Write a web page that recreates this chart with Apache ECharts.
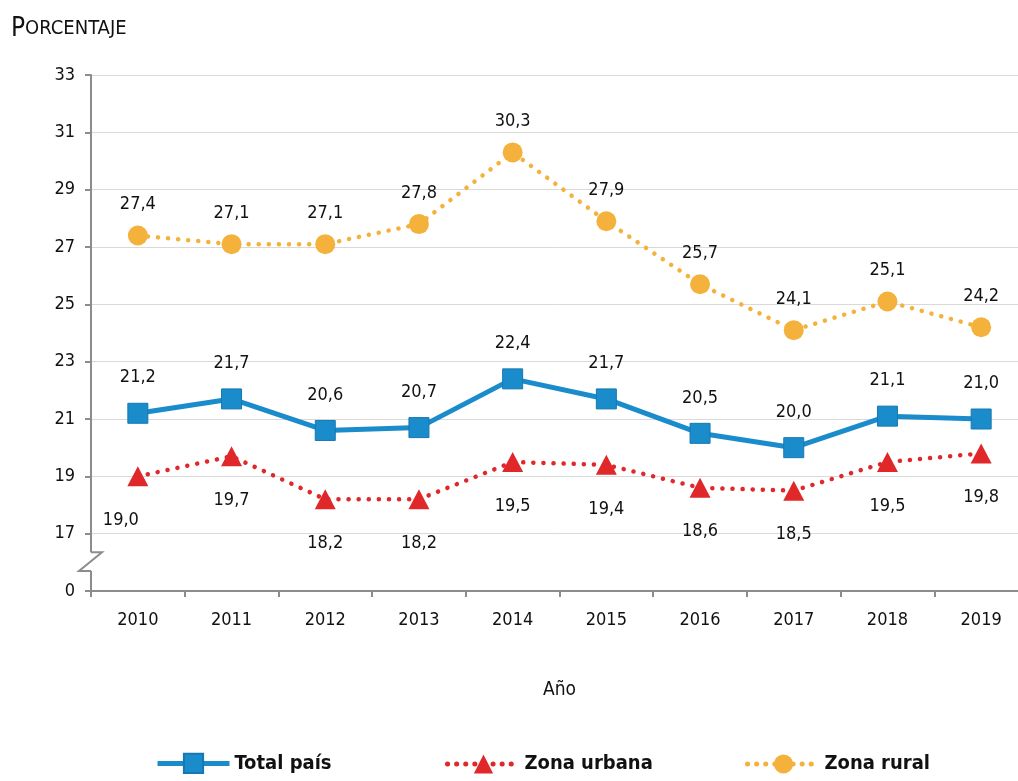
<!DOCTYPE html>
<html><head><meta charset="utf-8">
<script src="https://cdn.jsdelivr.net/npm/echarts@6/dist/echarts.min.js"></script>
<style>html,body{margin:0;padding:0;background:#fff;overflow:hidden}#c{width:1028px;height:781px}</style>
</head><body><div id="c"></div>
<script>
const years = ['2010','2011','2012','2013','2014','2015','2016','2017','2018','2019'];
const totalPais = [21.2,21.7,20.6,20.7,22.4,21.7,20.5,20.0,21.1,21.0];
const zonaUrbana = [19.0,19.7,18.2,18.2,19.5,19.4,18.6,18.5,19.5,19.8];
const zonaRural = [27.4,27.1,27.1,27.8,30.3,27.9,25.7,24.1,25.1,24.2];
const yTicks = [15,17,19,21,23,25,27,29,31,33];

const FONT = '"Liberation Sans Narrow","DejaVu Sans Condensed","Roboto Condensed",sans-serif';
const fmt = v => (typeof v === 'object' ? v.value : v).toFixed(1).replace('.', ',');
const chart = echarts.init(document.getElementById('c'));
const lbl = (pos, dist) => ({show:true, position:pos, distance:dist, fontFamily:FONT, fontSize:18, color:'#111', formatter:p=>fmt(p.value)});

const urbanData = zonaUrbana.map((v,i)=> i===0 ? {value:v, label:{offset:[-17,0]}} : v);

const legendBase = {bottom:2, itemWidth:72, itemHeight:24, textStyle:{fontFamily:FONT, fontSize:20, fontWeight:'bold', color:'#111'}, itemGap:0};

chart.setOption({
  animation:false,
  textStyle:{fontFamily:FONT},
  title:{text:'{a|P}{b|ORCENTAJE}', left:6, top:11, textStyle:{fontWeight:'normal', rich:{a:{fontFamily:FONT,fontSize:26,color:'#111',fontWeight:'normal'},b:{fontFamily:FONT,fontSize:20,color:'#111',fontWeight:'normal'}}}},
  grid:{left:91, right:0, top:75, bottom:190},
  legend:[
    Object.assign({}, legendBase, {left:150, data:[{name:'Total país', lineStyle:{width:5, color:'#1b8ccb'}}]}),
    Object.assign({}, legendBase, {left:440, data:[{name:'Zona urbana', lineStyle:{width:5, color:'#e0282a', type:[0.1,9], cap:'round'}}]}),
    Object.assign({}, legendBase, {left:740, data:[{name:'Zona rural', lineStyle:{width:5, color:'#f4b23c', type:[0.1,9], cap:'round'}}]})
  ],
  xAxis:{type:'category', data:years, boundaryGap:true, name:'Año', nameLocation:'middle', nameGap:90,
    nameTextStyle:{fontFamily:FONT, fontSize:19, color:'#111'},
    axisLine:{lineStyle:{color:'#8c8c8c', width:2}},
    axisTick:{show:true, length:6, lineStyle:{color:'#8c8c8c', width:2}},
    axisLabel:{fontFamily:FONT, fontSize:18, color:'#111', margin:20}},
  yAxis:{type:'value', min:15, max:33, interval:2,
    axisLine:{show:true, lineStyle:{color:'#8c8c8c', width:2}},
    axisTick:{show:true, length:6, lineStyle:{color:'#8c8c8c', width:2}},
    axisLabel:{fontFamily:FONT, fontSize:18, color:'#111', margin:16, formatter:v=> v===yTicks[0] ? '0' : String(v)},
    splitLine:{show:true, lineStyle:{color:'#d9d9d9', width:1}}},
  series:[
    {name:'Total país', type:'line', data:totalPais, symbol:'rect', symbolSize:20,
     lineStyle:{color:'#1b8ccb', width:5}, itemStyle:{color:'#1b8ccb', borderColor:'#1678b0', borderWidth:1},
     label:lbl('top',16), z:3},
    {name:'Zona urbana', type:'line', data:urbanData, symbol:'triangle', symbolSize:[21,20],
     lineStyle:{color:'#e0282a', width:4.5, type:[0.1,10], cap:'round'}, itemStyle:{color:'#e0282a'},
     label:lbl('bottom',25), z:2},
    {name:'Zona rural', type:'line', data:zonaRural, symbol:'circle', symbolSize:20,
     lineStyle:{color:'#f4b23c', width:4.5, type:[0.1,10], cap:'round'}, itemStyle:{color:'#f4b23c'},
     label:lbl('top',12), z:2}
  ]
});

// axis break marker between the lowest label (0) and 17
const pAxisX = chart.getModel().getComponent('grid').coordinateSystem.getRect().x;
const yA = chart.convertToPixel({yAxisIndex:0}, 16.35);
const yB = chart.convertToPixel({yAxisIndex:0}, 15.7);
chart.setOption({graphic:[
  {type:'rect', shape:{x:pAxisX-2, y:yA, width:4, height:yB-yA}, style:{fill:'#fff'}, z:100},
  {type:'polyline', shape:{points:[[pAxisX,yA],[pAxisX+11,yA],[pAxisX-12,yB],[pAxisX,yB]]}, style:{stroke:'#8c8c8c', lineWidth:2, fill:null}, z:101}
]});
</script></body></html>
